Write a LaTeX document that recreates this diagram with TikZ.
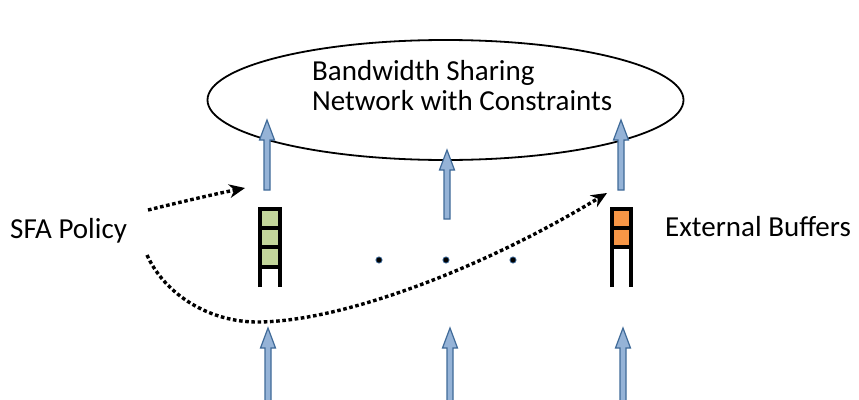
\documentclass[tikz,border=0pt]{standalone}
\usepackage{fontspec}
\setmainfont{Carlito}
\usetikzlibrary{arrows.meta,shapes.geometric}
\definecolor{flowfill}{HTML}{95B3D7}
\definecolor{flowedge}{HTML}{3F6A98}
\definecolor{cellgreen}{HTML}{C3D69B}
\definecolor{cellorange}{HTML}{F79646}
\tikzset{
  lbl/.style={font=\fontsize{29}{30}\selectfont, inner sep=0pt},
  policyflow/.style={line width=3.4pt, dash pattern=on 3.6pt off 2.6pt,
    -{Stealth[length=16pt,width=14pt,line width=0pt]}},
  bufwall/.style={line width=4pt, line cap=butt},
  pics/blockarrow/.style={code={
    % tip at (0,0), pointing up, total length #1
    \path[fill=flowfill, draw=flowedge, line width=1.2pt, line join=miter]
      (0,0) -- (7.5,20) -- (3,20) -- (3,#1) -- (-3,#1) -- (-3,20) -- (-7.5,20) -- cycle;
  }},
}
\begin{document}
\begin{tikzpicture}[x=1pt,y=-1pt]
\useasboundingbox (0,0) rectangle (859,399);

% the shared network
\node (net) [draw, line width=1.8pt, ellipse, minimum width=476pt, minimum height=120pt, inner sep=0pt] at (445.5,100) {};
\node (netlbl1) [lbl, anchor=base west] at (312,80) {Bandwidth Sharing};
\node (netlbl2) [lbl, anchor=base west] at (312,110) {Network with Constraints};

% flows leaving the buffers
\pic at (267,120) {blockarrow=70};
\pic at (447,150) {blockarrow=69};
\pic at (621,120) {blockarrow=70};

% arriving flows
\pic at (268,328) {blockarrow=75};
\pic at (450,328) {blockarrow=75};
\pic at (623,328) {blockarrow=75};

% left buffer: three green cells
\fill[cellgreen] (260,209) rectangle (280,267);
\draw[bufwall] (260,287) -- (260,209) -- (280,209) -- (280,287);
\draw[bufwall] (260,228) -- (280,228);
\draw[bufwall] (260,247) -- (280,247);
\draw[bufwall] (260,267) -- (280,267);
\coordinate (lbuf) at (245,188);

% right buffer: two orange cells
\fill[cellorange] (612,209) rectangle (631,247);
\draw[bufwall] (612,287) -- (612,209) -- (631,209) -- (631,287);
\draw[bufwall] (612,228) -- (631,228);
\draw[bufwall] (612,247) -- (631,247);
\coordinate (rbuf) at (607,193);

% ellipsis between buffers
\foreach \x/\n in {379/d1,446/d2,513/d3}
  \fill[black, draw=flowedge, line width=0.8pt] (\x,260) circle (3.1pt) coordinate (\n);

% labels
\node (sfa) [lbl, anchor=base west] at (10,238) {SFA Policy};
\node (ext) [lbl, anchor=base west] at (665,236) {External Buffers};

% policy acting on the buffers
\coordinate (p1) at (148,210);
\coordinate (p2) at (147,255);
\draw[policyflow] (p1) .. controls (185,201) and (215,194) .. (lbuf);
\draw[policyflow] (p2) .. controls (165,295) and (210,322) .. (257,322)
  .. controls (340,322) and (480,270) .. (rbuf);
\end{tikzpicture}
\end{document}
